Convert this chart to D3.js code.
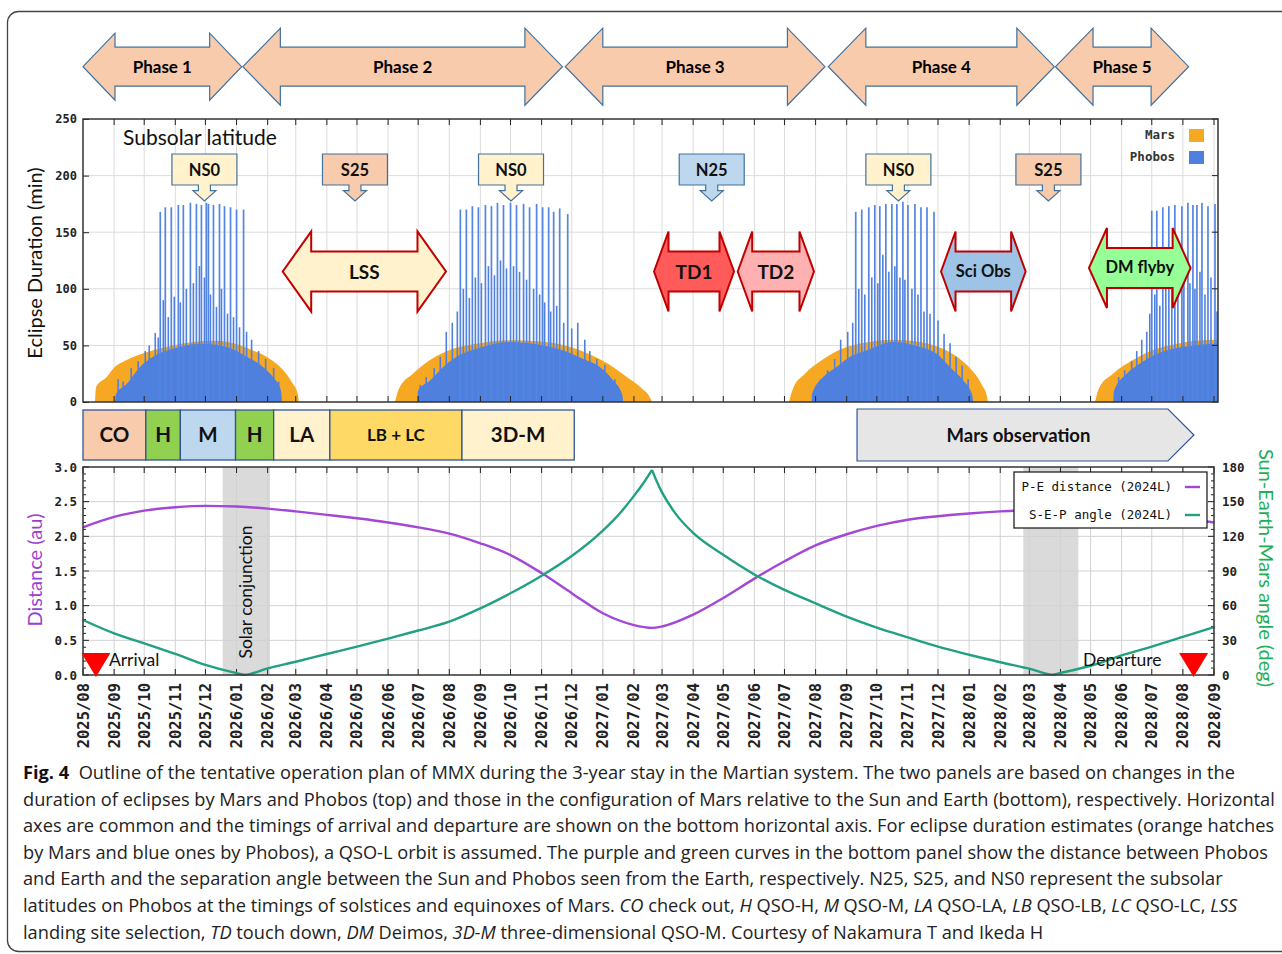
<!DOCTYPE html>
<html><head><meta charset="utf-8">
<script src="https://cdn.jsdelivr.net/npm/d3@7"></script>
<style>body{margin:0;background:#fff;}svg{display:block}</style>
</head><body>
<svg id="c" width="1282" height="954"></svg>
<script>
// ---------------- DATA ----------------
const missionStart = "2025-08-01";
const monthLabels = ["2025/08","2025/09","2025/10","2025/11","2025/12","2026/01","2026/02","2026/03","2026/04","2026/05","2026/06","2026/07","2026/08","2026/09","2026/10","2026/11","2026/12","2027/01","2027/02","2027/03","2027/04","2027/05","2027/06","2027/07","2027/08","2027/09","2027/10","2027/11","2027/12","2028/01","2028/02","2028/03","2028/04","2028/05","2028/06","2028/07","2028/08","2028/09"];
const eclipseTicks = [0,50,100,150,200,250];
const distTicks = [0.0,0.5,1.0,1.5,2.0,2.5,3.0];
const angleTicks = [0,30,60,90,120,150,180];

// Mars eclipse envelope per season: [mission day, minutes]
const marsSeason1 = [[12,0],[13,13],[23.6,22],[30.2,29.5],[43.5,37],[60.1,43],[83.4,48.6],[109.9,53],[129.5,54],[149.5,52],[169.4,45.6],[186.3,38],[199.6,28],[208,17.7],[213.9,7.4],[215.2,0]];
const marsSeason2 = [[310.9,0],[314.9,12],[328.8,25],[345.8,37],[368.7,47],[395.6,52],[425.5,54.5],[460.4,53],[488.2,48],[510.2,40],[528.1,31],[545,20],[557,12],[565,4],[567,0]];
const marsSeason3 = [[703.5,0],[707.5,12],[719.4,25],[736.4,37],[756.3,47],[780.2,52.5],[807.1,55],[834,53],[856.9,47],[873.8,38],[885.8,28],[895.8,15],[900.7,5],[901.7,0]];
const marsSeason4 = [[1008.4,0],[1012.3,12],[1026.3,25],[1046.2,37],[1066.1,46],[1090,51.5],[1108,54],[1131,55],[1131,0]];
// Phobos eclipse base envelope per season
const phobosBase1 = [[31.9,0],[32.9,7],[43.5,16],[56.8,31],[69.7,40],[89.7,47],[116.6,51.5],[143.2,48.6],[163.1,40],[179.4,31],[189.3,22],[197.3,10],[198.3,0]];
const phobosBase2 = [[333.1,0],[333.8,10],[345.8,19],[359,31],[372.4,40],[392.3,47],[425.5,53],[458.7,50],[478.6,45.6],[498.5,38],[515.1,31],[528.4,19],[537.1,7],[538.4,0]];
const phobosBase3 = [[726.1,0],[726.4,7],[737.6,22],[751,31],[764.3,40],[780.9,45.6],[807.4,53],[834,48.6],[850.6,42.7],[863.9,31],[877.1,19],[885.8,7],[887.1,0]];
const phobosBase4 = [[1026.6,0],[1027.3,10],[1040,25],[1053.2,34],[1066.5,41],[1086.4,47],[1106.3,50],[1131,51.5],[1131,0]];
// Phobos eclipse peaks (individual long eclipses): [mission day, minutes]
const phobosPeaks = [
 [77,168],[82,172],[88,172],[95,174],[100,174],[107,176],[113,175],[118,174],[123,176],[125,175],[130,174],[136,175],[141,173],[147,172],[153,170],[160,170],
 [376,170],[382,170],[388,173],[394,172],[401,174],[407,173],[413,176],[419,174],[426,176],[432,174],[439,175],[445,172],[452,175],[458,172],[464,172],[469,168],[475,171],[483,166],
 [770,168],[776,170],[783,172],[789,174],[794,173],[800,175],[806,175],[811,175],[817,177],[822,174],[829,175],[835,172],[841,172],[848,168],
 [1065,169],[1070,169],[1076,172],[1082,173],[1088,174],[1095,173],[1101,176],[1106,174],[1110,174],[1115,176],[1121,173],[1128,175]
];
const phobosMedium = [
 [35,20],[40,18],[48,30],[55,36],[62,45],[66,50],[72,61],[75,57],[80,90],[85,75],[91,93],[97,88],[103,100],[110,105],[116,120],[121,110],[127,95],[133,84],[138,100],[144,78],[150,75],[156,66],[163,62],[168,55],[175,45],[182,38],[190,30],[195,18],
 [336,15],[342,22],[350,30],[356,40],[362,62],[368,70],[373,80],[379,100],[385,92],[391,110],[397,105],[404,120],[410,112],[416,125],[422,118],[429,120],[435,115],[442,108],[449,100],[455,95],[460,88],[466,80],[472,85],[479,70],[487,65],[493,70],[500,55],[505,45],[512,38],[520,33],[530,20],[535,10],
 [735,20],[742,28],[749,38],[755,55],[762,62],[767,70],[773,100],[779,95],[786,110],[792,105],[797,130],[803,115],[809,120],[814,110],[819,108],[826,100],[832,95],[838,80],[844,78],[852,72],[858,60],[864,52],[870,40],[876,32],[882,20],
 [1032,22],[1038,28],[1045,36],[1050,45],[1055,55],[1060,62],[1063,78],[1068,95],[1073,85],[1079,100],[1085,110],[1091,100],[1097,112],[1103,105],[1108,100],[1113,115],[1118,95],[1124,110],[1130,80]
];

// Bottom panel curves
const distDates = ["2025-08-01","2025-09-01","2025-10-01","2025-11-01","2025-12-01","2026-01-01","2026-02-01","2026-03-01","2026-04-01","2026-05-01","2026-06-01","2026-07-01","2026-08-01","2026-09-01","2026-10-01","2026-11-01","2026-12-01","2027-01-01","2027-02-01","2027-02-19","2027-03-01","2027-04-01","2027-05-01","2027-06-01","2027-07-01","2027-08-01","2027-09-01","2027-10-01","2027-11-01","2027-12-01","2028-01-01","2028-02-01","2028-03-01","2028-04-01","2028-05-01","2028-06-01","2028-07-01","2028-08-01","2028-09-01"];
const distValues = [2.13,2.28,2.37,2.42,2.44,2.43,2.40,2.36,2.31,2.26,2.20,2.13,2.04,1.90,1.73,1.47,1.18,0.89,0.72,0.68,0.70,0.87,1.11,1.39,1.64,1.87,2.03,2.15,2.24,2.29,2.33,2.36,2.38,2.39,2.38,2.35,2.31,2.26,2.20];
const angleDates = ["2025-08-01","2025-09-01","2025-10-01","2025-11-01","2025-12-01","2026-01-01","2026-01-09","2026-02-01","2026-03-01","2026-04-01","2026-05-01","2026-06-01","2026-07-01","2026-08-01","2026-09-01","2026-10-01","2026-11-01","2026-12-01","2027-01-01","2027-01-20","2027-02-01","2027-02-10","2027-02-19","2027-02-24","2027-03-01","2027-03-15","2027-04-01","2027-05-01","2027-06-01","2027-07-01","2027-08-01","2027-09-01","2027-10-01","2027-11-01","2027-12-01","2028-01-01","2028-02-01","2028-03-01","2028-03-24","2028-04-01","2028-05-01","2028-06-01","2028-07-01","2028-08-01","2028-09-01"];
const angleValues = [47.6,36,27.4,18.2,8.7,1.6,0.2,5.8,11.5,18.2,24.5,31.5,38.5,46.1,57.7,70.7,85.9,103,125,142,155,165.5,177.5,167,158,139,123,104,87,73.6,62,50.5,41,32.5,24.5,17.5,11,5.5,0.3,1.8,8,17,24.5,33,41.5];

// Annotations (mission days)
const phaseLabels = ["Phase 1","Phase 2","Phase 3","Phase 4","Phase 5"];
const phaseStart = [0,159.3,480.6,742.7,969.1];
const phaseEnd = [158.1,477.7,739.3,967.9,1101.7];
const subsolarLabels = ["NS0","S25","NS0","N25","NS0","S25"];
const subsolarDay = [121,271,426.5,626.5,812.5,962];
const subsolarFill = ["#FFF2CC","#F8CBAD","#FFF2CC","#BDD7EE","#FFF2CC","#F8CBAD"];
const activityLabels = ["LSS","TD1","TD2","Sci Obs","DM flyby"];
const activityStart = [199,569,652.4,855,1002.4];
const activityEnd = [361.7,648.7,728.4,939.3,1103.7];
const activityFill = ["#FFF2CC","#FF5B5B","#FFB0B0","#9DC3E6","#96FF96"];
const opsLabels = ["CO","H","M","H","LA","LB + LC","3D-M"];
const opsStart = [0,62.6,97,152,190,246,377.6];
const opsEnd = [62.6,97,152,190,246,377.6,489.5];
const opsFill = ["#F8CBAD","#92D050","#BDD7EE","#92D050","#FFF2CC","#FFD966","#FFF2CC"];
const marsObsStart = 771.3, marsObsEnd = 1107;
const conjunctionStart = [139.2,937], conjunctionEnd = [186.3,991.8];
const arrivalDay = 12.9, departureDay = 1106.7;

const captionLines = [
 [["Fig. 4","b"],["  Outline of the tentative operation plan of MMX during the 3-year stay in the Martian system. The two panels are based on changes in the",""]],
 [["duration of eclipses by Mars and Phobos (top) and those in the configuration of Mars relative to the Sun and Earth (bottom), respectively. Horizontal",""]],
 [["axes are common and the timings of arrival and departure are shown on the bottom horizontal axis. For eclipse duration estimates (orange hatches",""]],
 [["by Mars and blue ones by Phobos), a QSO-L orbit is assumed. The purple and green curves in the bottom panel show the distance between Phobos",""]],
 [["and Earth and the separation angle between the Sun and Phobos seen from the Earth, respectively. N25, S25, and NS0 represent the subsolar",""]],
 [["latitudes on Phobos at the timings of solstices and equinoxes of Mars. ",""],["CO","i"],[" check out, ",""],["H","i"],[" QSO-H, ",""],["M","i"],[" QSO-M, ",""],["LA","i"],[" QSO-LA, ",""],["LB","i"],[" QSO-LB, ",""],["LC","i"],[" QSO-LC, ",""],["LSS","i"]],
 [["landing site selection, ",""],["TD","i"],[" touch down, ",""],["DM","i"],[" Deimos, ",""],["3D-M","i"],[" three-dimensional QSO-M. Courtesy of Nakamura T and Ikeda H",""]]
];

// ---------------- DRAW ----------------
const svg = d3.select("#c");
const T0 = Date.parse(missionStart + "T00:00:00Z");
const dayDate = d => new Date(T0 + d*864e5);
const parseLabel = s => { const [y,m] = s.split("/").map(Number); return new Date(Date.UTC(y,m-1,1)); };
const monthDates = monthLabels.map(parseLabel);
const x = d3.scaleUtc().domain([monthDates[0], monthDates[monthDates.length-1]]).range([83,1214]);
const X = d => x(dayDate(d));
const ANN = "Lato, 'Open Sans', sans-serif";
const MONO = "'DejaVu Sans Mono', monospace";
const BLUE_STROKE = "#41719C";

// frame
svg.append("rect").attr("x",7.5).attr("y",11.5).attr("width",1300).attr("height",940).attr("rx",11)
  .attr("fill","none").attr("stroke","#444").attr("stroke-width",1.3);

// ---- Phase arrows
function dblArrow(x0,x1,cy,hh,sh,hl){
  return `M${x0},${cy}L${x0+hl},${cy-hh}L${x0+hl},${cy-sh}L${x1-hl},${cy-sh}L${x1-hl},${cy-hh}L${x1},${cy}L${x1-hl},${cy+hh}L${x1-hl},${cy+sh}L${x0+hl},${cy+sh}L${x0+hl},${cy+hh}Z`;
}
phaseLabels.forEach((lab,i)=>{
  const x0 = X(phaseStart[i]), x1 = X(phaseEnd[i]);
  const hh = i===0 ? 33.5 : 38.5, hl = i===0 ? 32 : 37.5;
  svg.append("path").attr("d", dblArrow(x0,x1,66.7,hh,19.5,hl))
    .attr("fill","#F8CBAD").attr("stroke",BLUE_STROKE).attr("stroke-width",1.2);
  svg.append("text").attr("x",(x0+x1)/2).attr("y",73).attr("text-anchor","middle")
    .attr("font-family",ANN).attr("font-weight","bold").attr("font-size",17).text(lab);
});

// ---- Top panel
const T = {l:83, r:1218, t:119, b:402};
const yTop = d3.scaleLinear().domain([0,250]).range([T.b,T.t]);
svg.append("defs").append("clipPath").attr("id","clipTop").append("rect")
  .attr("x",T.l).attr("y",T.t).attr("width",T.r-T.l).attr("height",T.b-T.t);
const gTop = svg.append("g");
gTop.selectAll(".vg").data(monthDates.filter(d=>x(d)>T.l+1 && x(d)<T.r-1)).join("line")
  .attr("x1",d=>x(d)).attr("x2",d=>x(d)).attr("y1",T.t).attr("y2",T.b).attr("stroke","#DCDCDC").attr("stroke-width",1);
gTop.selectAll(".hg").data(eclipseTicks.filter(v=>v>0&&v<250)).join("line")
  .attr("x1",T.l).attr("x2",T.r).attr("y1",d=>yTop(d)).attr("y2",d=>yTop(d)).attr("stroke","#DCDCDC").attr("stroke-width",1);
const gEc = gTop.append("g").attr("clip-path","url(#clipTop)");
const area = d3.area().x(d=>X(d[0])).y0(yTop(0)).y1(d=>yTop(d[1])).curve(d3.curveMonotoneX);
[marsSeason1,marsSeason2,marsSeason3,marsSeason4].forEach(s=>gEc.append("path").attr("d",area(s)).attr("fill","#F7A823"));
[phobosBase1,phobosBase2,phobosBase3,phobosBase4].forEach(s=>gEc.append("path").attr("d",area(s)).attr("fill","#4F80DE"));
gEc.selectAll(".med").data(phobosMedium).join("line")
  .attr("x1",d=>X(d[0])).attr("x2",d=>X(d[0])).attr("y1",yTop(0)).attr("y2",d=>yTop(d[1]))
  .attr("stroke","#4F80DE").attr("stroke-width",1.6);
gEc.selectAll(".pk").data(phobosPeaks).join("line")
  .attr("x1",d=>X(d[0])).attr("x2",d=>X(d[0])).attr("y1",yTop(0)).attr("y2",d=>yTop(d[1]))
  .attr("stroke","#5585E2").attr("stroke-width",1.7);
const tickTop = gTop.append("g").attr("stroke","#222").attr("stroke-width",1);
monthDates.forEach(d=>{ const xx=x(d); if(xx>T.l && xx<T.r){
  tickTop.append("line").attr("x1",xx).attr("x2",xx).attr("y1",T.b).attr("y2",T.b-6);
  tickTop.append("line").attr("x1",xx).attr("x2",xx).attr("y1",T.t).attr("y2",T.t+6);}});
eclipseTicks.forEach(v=>{ const yy=yTop(v);
  tickTop.append("line").attr("x1",T.r).attr("x2",T.r-6).attr("y1",yy).attr("y2",yy);});
const axL = d3.axisLeft(yTop).tickValues(eclipseTicks).tickSize(-6).tickPadding(6).tickFormat(d3.format("d"));
const gAxL = svg.append("g").attr("transform",`translate(${T.l},0)`).call(axL);
gAxL.select(".domain").remove();
gAxL.selectAll("line").attr("stroke","#222");
gAxL.selectAll("text").attr("font-family",MONO).attr("font-weight","bold").attr("font-size",12).attr("fill","#222");
svg.append("rect").attr("x",T.l).attr("y",T.t).attr("width",T.r-T.l).attr("height",T.b-T.t)
  .attr("fill","none").attr("stroke","#333").attr("stroke-width",1.5);
[["Mars","#F7A823",139],["Phobos","#4F80DE",161]].forEach(([t,c,yy])=>{
  svg.append("text").attr("x",1175).attr("y",yy).attr("text-anchor","end").attr("font-family",MONO)
    .attr("font-size",12.5).attr("font-weight","bold").attr("fill","#333").text(t);
  svg.append("rect").attr("x",1189).attr("y",yy-10).attr("width",15).attr("height",13).attr("fill",c);
});
svg.append("text").attr("x",123).attr("y",145).attr("font-family",ANN).attr("font-size",21).attr("fill","#111").text("Subsolar latitude");
subsolarLabels.forEach((lab,i)=>{
  const cx = X(subsolarDay[i]), x0 = cx-32.5, x1 = cx+32.5;
  svg.append("path").attr("d",`M${x0},154H${x1}V185H${cx+6}V190.7H${cx+11.5}L${cx},201L${cx-11.5},190.7H${cx-6}V185H${x0}Z`)
    .attr("fill",subsolarFill[i]).attr("stroke",BLUE_STROKE).attr("stroke-width",1.2);
  svg.append("text").attr("x",cx).attr("y",176).attr("text-anchor","middle").attr("font-family",ANN)
    .attr("font-weight","bold").attr("font-size",16.5).attr("fill","#111").text(lab);
});
activityLabels.forEach((lab,i)=>{
  const x0 = X(activityStart[i]), x1 = X(activityEnd[i]);
  const hl = i===0 ? 28.5 : (i===4 ? 18 : 14.5);
  const cy = i===4 ? 268 : 271.5;
  svg.append("path").attr("d",dblArrow(x0,x1,cy,40,20,hl))
    .attr("fill",activityFill[i]).attr("stroke","#C00000").attr("stroke-width",2);
  const fs = i<3 ? 19 : 16.5;
  svg.append("text").attr("x",(x0+x1)/2).attr("y",cy+ (i<3?7:5)).attr("text-anchor","middle").attr("font-family",ANN)
    .attr("font-weight","bold").attr("font-size",fs).attr("fill","#111").text(lab);
});
svg.append("text").attr("transform","translate(42,263) rotate(-90)").attr("text-anchor","middle")
  .attr("font-family",ANN).attr("font-size",20).attr("fill","#111").text("Eclipse Duration (min)");

// ---- Ops row
opsLabels.forEach((lab,i)=>{
  const x0 = X(opsStart[i]), x1 = X(opsEnd[i]);
  svg.append("rect").attr("x",x0).attr("y",410).attr("width",x1-x0).attr("height",50)
    .attr("fill",opsFill[i]).attr("stroke","#2F5597").attr("stroke-width",1.3);
  svg.append("text").attr("x",(x0+x1)/2).attr("y",lab==="LB + LC"?441:442).attr("text-anchor","middle").attr("font-family",ANN)
    .attr("font-weight","bold").attr("font-size",lab==="LB + LC"?17:20.5).attr("fill","#111").text(lab);
});
{
  const x0 = X(marsObsStart), tip = X(marsObsEnd), xb = tip-26;
  svg.append("path").attr("d",`M${x0},409H${xb}L${tip},435L${xb},461H${x0}Z`)
    .attr("fill","#E7E6E6").attr("stroke","#2F5597").attr("stroke-width",1.2);
  svg.append("text").attr("x",(x0+xb)/2+6).attr("y",442).attr("text-anchor","middle").attr("font-family",ANN)
    .attr("font-weight","bold").attr("font-size",18.5).attr("fill","#111").text("Mars observation");
}

// ---- Bottom panel
const B = {l:83, r:1214, t:467, b:675};
const yDist = d3.scaleLinear().domain([0,3]).range([B.b,B.t]);
const yAng = d3.scaleLinear().domain([0,180]).range([B.b,B.t]);
const gB = svg.append("g");
conjunctionStart.forEach((s,i)=>{
  gB.append("rect").attr("x",X(s)).attr("y",B.t).attr("width",X(conjunctionEnd[i])-X(s)).attr("height",B.b-B.t).attr("fill","#DADADA");
});
gB.selectAll(".vg").data(monthDates.filter(d=>x(d)>B.l+1 && x(d)<B.r-1)).join("line")
  .attr("x1",d=>x(d)).attr("x2",d=>x(d)).attr("y1",B.t).attr("y2",B.b).attr("stroke","#D2D2D2").attr("stroke-width",1);
gB.selectAll(".hg").data(distTicks.filter(v=>v>0&&v<3)).join("line")
  .attr("x1",B.l).attr("x2",B.r).attr("y1",d=>yDist(d)).attr("y2",d=>yDist(d)).attr("stroke","#D2D2D2").attr("stroke-width",1);
const tickB = gB.append("g").attr("stroke","#222").attr("stroke-width",1);
monthDates.forEach(d=>{ const xx=x(d);
  tickB.append("line").attr("x1",xx).attr("x2",xx).attr("y1",B.b).attr("y2",B.b-6);
  tickB.append("line").attr("x1",xx).attr("x2",xx).attr("y1",B.t).attr("y2",B.t+6);});
d3.range(0,3.001,0.1).forEach(v=>{ const yy=yDist(v), major = Math.abs(v*2-Math.round(v*2))<1e-6;
  tickB.append("line").attr("x1",B.l).attr("x2",B.l+(major?6:3)).attr("y1",yy).attr("y2",yy);});
d3.range(0,180.001,6).forEach(v=>{ const yy=yAng(v), major = v%30===0;
  tickB.append("line").attr("x1",B.r).attr("x2",B.r-(major?6:3)).attr("y1",yy).attr("y2",yy);});
const axDL = d3.axisLeft(yDist).tickValues(distTicks).tickSize(0).tickPadding(6).tickFormat(d3.format(".1f"));
const gDL = svg.append("g").attr("transform",`translate(${B.l},0)`).call(axDL);
gDL.select(".domain").remove();
gDL.selectAll("text").attr("font-family",MONO).attr("font-weight","bold").attr("font-size",12.5).attr("fill","#222");
const axAR = d3.axisRight(yAng).tickValues(angleTicks).tickSize(0).tickPadding(8).tickFormat(d3.format("d"));
const gAR = svg.append("g").attr("transform",`translate(${B.r},0)`).call(axAR);
gAR.select(".domain").remove();
gAR.selectAll("text").attr("font-family",MONO).attr("font-weight","bold").attr("font-size",12.5).attr("fill","#222");
svg.append("g").selectAll("text").data(monthLabels).join("text")
  .attr("transform",(d,i)=>`translate(${x(monthDates[i])+5.5},683) rotate(-90)`)
  .attr("text-anchor","end").attr("font-family",MONO).attr("font-weight","bold").attr("font-size",15.5).attr("fill","#222").text(d=>d);
const distPts = distDates.map((d,i)=>[new Date(d+"T00:00:00Z"),distValues[i]]);
const angPts = angleDates.map((d,i)=>[new Date(d+"T00:00:00Z"),angleValues[i]]);
gB.append("path").attr("d",d3.line().x(d=>x(d[0])).y(d=>yDist(d[1])).curve(d3.curveMonotoneX)(distPts))
  .attr("fill","none").attr("stroke","#A347D6").attr("stroke-width",2.4);
// the angle has a cusp at opposition: draw each side as its own smooth segment
const peakIdx = d3.maxIndex(angleValues);
const angLine = d3.line().x(d=>x(d[0])).y(d=>yAng(d[1])).curve(d3.curveMonotoneX);
[angPts.slice(0,peakIdx+1), angPts.slice(peakIdx)].forEach(seg=>{
  gB.append("path").attr("d",angLine(seg)).attr("fill","none").attr("stroke","#21A083")
    .attr("stroke-width",2.4).attr("stroke-linejoin","miter");
});
svg.append("rect").attr("x",B.l).attr("y",B.t).attr("width",B.r-B.l).attr("height",B.b-B.t)
  .attr("fill","none").attr("stroke","#333").attr("stroke-width",1.5);
svg.append("rect").attr("x",1014).attr("y",472).attr("width",193).attr("height",56).attr("fill","#fff").attr("stroke","#111").attr("stroke-width",1.2);
[["P-E distance (2024L)","#A347D6",491,487],["S-E-P angle (2024L)","#21A083",519,515]].forEach(([t,c,yy,ly])=>{
  svg.append("text").attr("x",1172).attr("y",yy).attr("text-anchor","end").attr("font-family",MONO)
    .attr("font-size",12.5).attr("fill","#111").text(t);
  svg.append("line").attr("x1",1185).attr("x2",1200).attr("y1",ly).attr("y2",ly).attr("stroke",c).attr("stroke-width",2.4);
});
svg.append("text").attr("transform",`translate(${(X(conjunctionStart[0])+X(conjunctionEnd[0]))/2+6},592) rotate(-90)`)
  .attr("text-anchor","middle").attr("font-family",ANN).attr("font-size",17.5).attr("fill","#111").text("Solar conjunction");
[[arrivalDay,"Arrival","start",13],[departureDay,"Departure","end",-32]].forEach(([d,t,anc,dx])=>{
  const cx = X(d);
  svg.append("path").attr("d",`M${cx-14.5},653L${cx+14.5},653L${cx},677Z`).attr("fill","#FF0000");
  svg.append("text").attr("x",cx+dx).attr("y",666).attr("text-anchor",anc).attr("font-family",ANN)
    .attr("font-size",17.5).attr("fill","#111").text(t);
});
svg.append("text").attr("transform","translate(42,570) rotate(-90)").attr("text-anchor","middle")
  .attr("font-family",ANN).attr("font-size",20).attr("fill","#9B3FCF").text("Distance (au)");
svg.append("text").attr("transform","translate(1259,568) rotate(90)").attr("text-anchor","middle")
  .attr("font-family",ANN).attr("font-size",20).attr("fill","#1DB054").text("Sun-Earth-Mars angle (deg)");

// ---- caption
const capFont = "'Open Sans', sans-serif";
const cap = svg.append("g");
function drawLine(segs, y, fs){
  const t = cap.append("text").attr("x",23).attr("y",y).attr("font-family",capFont).attr("font-size",fs).attr("fill","#222").attr("style","white-space:pre");
  segs.forEach(([s,st])=>{
    const sp = t.append("tspan").text(s);
    if(st==="b") sp.attr("font-weight","bold").attr("fill","#111");
    if(st==="i") sp.attr("font-style","italic");
  });
  return t;
}
const probe = drawLine(captionLines[1], -100, 17);
const w17 = probe.node().getComputedTextLength();
probe.remove();
const capFs = 17 * 1252 / w17;
captionLines.forEach((segs,i)=>drawLine(segs, 779 + i*26.6, capFs));
</script>
</body></html>
